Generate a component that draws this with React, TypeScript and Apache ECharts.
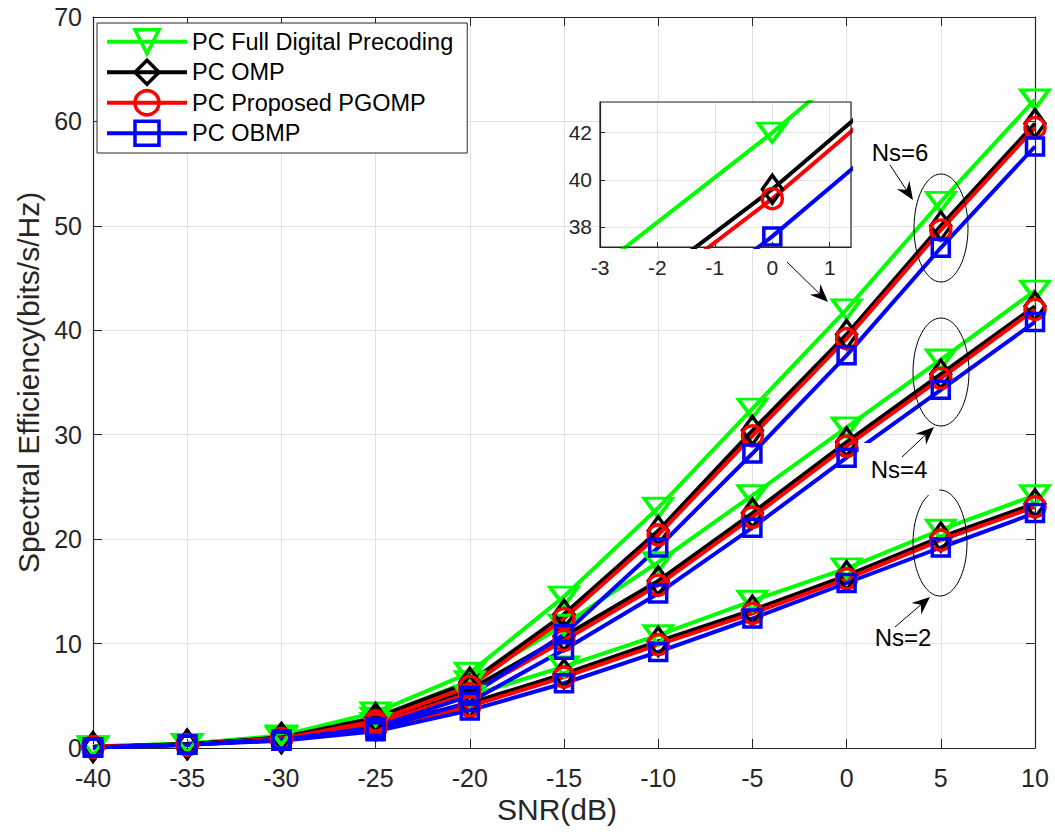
import React, { useEffect, useRef } from "react";
import * as echarts from "echarts";

// ---------- data ----------
const snr = [-40, -35, -30, -25, -20, -15, -10, -5, 0, 5, 10];

// Ns = 6
const fd6 = [0.15, 0.4, 1.2, 3.4, 7.2, 14.5, 23.0, 32.5, 42.0, 52.3, 62.1];
const omp6 = [0.1, 0.35, 1.0, 2.9, 6.3, 12.8, 20.8, 30.4, 39.6, 50.0, 59.8];
const pgomp6 = [0.1, 0.3, 0.9, 2.6, 5.9, 12.4, 20.4, 29.9, 39.2, 49.6, 59.4];
const obmp6 = [0.05, 0.3, 0.8, 2.0, 5.0, 10.9, 19.2, 28.2, 37.6, 47.9, 57.6];

// Ns = 4
const fd4 = [0.15, 0.4, 1.1, 2.9, 6.4, 11.8, 17.8, 24.2, 30.7, 37.2, 43.8];
const omp4 = [0.1, 0.35, 1.0, 2.6, 5.6, 10.7, 16.0, 22.5, 29.3, 35.8, 42.3];
const pgomp4 = [0.1, 0.3, 0.9, 2.3, 5.2, 10.3, 15.6, 22.1, 28.9, 35.4, 42.0];
const obmp4 = [0.05, 0.3, 0.8, 1.8, 4.4, 9.4, 14.8, 21.1, 27.8, 34.3, 40.8];

// Ns = 2
const fd2 = [0.15, 0.4, 1.0, 2.4, 5.0, 7.8, 10.8, 14.1, 17.2, 20.9, 24.2];
const omp2 = [0.1, 0.35, 0.9, 2.1, 4.3, 7.1, 10.2, 13.2, 16.5, 20.2, 23.4];
const pgomp2 = [0.1, 0.3, 0.8, 1.8, 4.0, 6.8, 9.9, 12.9, 16.2, 19.9, 23.1];
const obmp2 = [0.05, 0.3, 0.7, 1.6, 3.6, 6.2, 9.2, 12.4, 15.8, 19.2, 22.5];

const xTicks = { min: -40, max: 10, step: 5 };
const yTicks = { min: 0, max: 70, step: 10 };
const insetX = { min: -3, max: 1.37, step: 1 };
const insetY = { min: 37.15, max: 43.3 };

const legendNames = [
  "PC Full Digital Precoding",
  "PC OMP",
  "PC Proposed PGOMP",
  "PC OBMP",
];

const FONT = "'Liberation Sans', Arial, Helvetica, sans-serif";
const AX = "#262626";
const GRIDC = "#e2e2e2";

const methods = [
  { name: legendNames[0], color: "#00ff00", symbol: "triangle", size: [28, 19], rotate: 180, sets: [fd2, fd4, fd6] },
  { name: legendNames[1], color: "#000000", symbol: "diamond", size: [20, 28], rotate: 0, sets: [omp2, omp4, omp6] },
  { name: legendNames[2], color: "#ff0000", symbol: "circle", size: 20, rotate: 0, sets: [pgomp2, pgomp4, pgomp6] },
  { name: legendNames[3], color: "#0000ff", symbol: "rect", size: 17, rotate: 0, sets: [obmp2, obmp4, obmp6] },
];

const MAIN = { left: 93, top: 17, width: 942, height: 731 };
const INSET = { left: 600, top: 102, width: 251, height: 145 };

function arrow(x1: number, y1: number, x2: number, y2: number) {
  const dx = x2 - x1, dy = y2 - y1;
  const L = Math.hypot(dx, dy);
  const ux = dx / L, uy = dy / L;
  const px = -uy, py = ux;
  const hl = 18, hw = 7.5, notch = 6;
  const bx = x2 - ux * hl, by = y2 - uy * hl;
  const nx = x2 - ux * (hl - notch), ny = y2 - uy * (hl - notch);
  return [
    { type: "line", z: 20, shape: { x1, y1, x2: nx, y2: ny }, style: { stroke: "#000", lineWidth: 1 } },
    {
      type: "polygon", z: 20,
      shape: { points: [[x2, y2], [bx + px * hw, by + py * hw], [nx, ny], [bx - px * hw, by - py * hw]] },
      style: { fill: "#000" },
    },
  ];
}

function label(text: string, x: number, y: number, bg?: boolean) {
  return {
    type: "text", z: 15, x, y,
    style: {
      text, fontSize: 24, fontFamily: FONT, fill: "#000",
      align: "center", verticalAlign: "middle",
      ...(bg ? { backgroundColor: "#fff", padding: [14, 12, 14, 12] } : {}),
    },
  };
}

export default function App() {
  const ref = useRef<HTMLDivElement>(null);
  useEffect(() => {
    const chart = echarts.init(ref.current!, null, { renderer: "svg" });

    const mk = (m: any, arr: number[], xi: number, z: number) => ({
      type: "line", name: m.name, xAxisIndex: xi, yAxisIndex: xi, z, clip: true,
      data: snr.map((x, i) => [x, arr[i]]),
      symbol: m.symbol, symbolSize: m.size, symbolRotate: m.rotate, showSymbol: true,
      lineStyle: { color: m.color, width: 4 },
      itemStyle: { color: "rgba(0,0,0,0)", borderColor: m.color, borderWidth: 3.5 },
      emphasis: { disabled: true }, silent: true,
    });

    const series: any[] = [];
    methods.forEach((m) => m.sets.forEach((arr) => series.push(mk(m, arr, 0, 2))));
    methods.forEach((m) => series.push(mk(m, m.sets[2], 2, 6)));

    const tickLabel = { fontSize: 25, color: AX, fontFamily: FONT };

    const option: any = {
      animation: false,
      backgroundColor: "#fff",
      grid: [
        { ...MAIN, containLabel: false },
        { ...INSET, containLabel: false },
      ],
      legend: {
        data: legendNames,
        orient: "vertical",
        left: 97, top: 23,
        itemWidth: 80, itemHeight: 30, itemGap: 3,
        padding: [5, 14, 6, 8],
        backgroundColor: "#fff",
        borderColor: AX, borderWidth: 1, borderRadius: 0,
        selectedMode: false,
        textStyle: { fontSize: 23.5, color: "#000", fontFamily: FONT },
        itemStyle: { borderWidth: 3.5 },
        lineStyle: { width: 4 },
      },
      xAxis: [
        {
          type: "value", gridIndex: 0, position: "bottom",
          min: xTicks.min, max: xTicks.max, interval: xTicks.step,
          axisLine: { show: true, onZero: false, lineStyle: { color: AX, width: 1.2 } },
          axisTick: { show: true, inside: true, length: 9, lineStyle: { color: AX } },
          axisLabel: { ...tickLabel, margin: 17 },
          splitLine: { show: true, lineStyle: { color: GRIDC, width: 1 } },
          name: "SNR(dB)", nameLocation: "middle", nameGap: 46,
          nameTextStyle: { fontSize: 30, color: AX, fontFamily: FONT, padding: [0, 14, 0, 0] },
        },
        {
          type: "value", gridIndex: 0, position: "top",
          min: xTicks.min, max: xTicks.max, interval: xTicks.step,
          axisLine: { show: true, onZero: false, lineStyle: { color: AX, width: 1.2 } },
          axisTick: { show: true, inside: true, length: 9, lineStyle: { color: AX } },
          axisLabel: { show: false }, splitLine: { show: false },
        },
        {
          type: "value", gridIndex: 1, position: "bottom", z: 5,
          min: insetX.min, max: insetX.max, interval: insetX.step,
          axisLine: { show: true, onZero: false, lineStyle: { color: AX, width: 1.2 } },
          axisTick: { show: true, inside: true, length: 5, lineStyle: { color: AX } },
          axisLabel: { fontSize: 21, color: AX, fontFamily: FONT, margin: 10, showMaxLabel: false },
          splitLine: { show: true, lineStyle: { color: GRIDC, width: 1 } },
        },
      ],
      yAxis: [
        {
          type: "value", gridIndex: 0, position: "left",
          min: yTicks.min, max: yTicks.max, interval: yTicks.step,
          axisLine: { show: true, onZero: false, lineStyle: { color: AX, width: 1.2 } },
          axisTick: { show: true, inside: true, length: 9, lineStyle: { color: AX } },
          axisLabel: { ...tickLabel, margin: 11 },
          splitLine: { show: true, lineStyle: { color: GRIDC, width: 1 } },
          name: "Spectral Efficiency(bits/s/Hz)", nameLocation: "middle", nameGap: 50,
          nameTextStyle: { fontSize: 30, color: AX, fontFamily: FONT },
        },
        {
          type: "value", gridIndex: 0, position: "right",
          min: yTicks.min, max: yTicks.max, interval: yTicks.step,
          axisLine: { show: true, onZero: false, lineStyle: { color: AX, width: 1.2 } },
          axisTick: { show: true, inside: true, length: 9, lineStyle: { color: AX } },
          axisLabel: { show: false }, splitLine: { show: false },
        },
        {
          type: "value", gridIndex: 1, position: "left", z: 5,
          min: insetY.min, max: insetY.max, splitNumber: 3,
          axisLine: { show: true, onZero: false, lineStyle: { color: AX, width: 1.2 } },
          axisTick: { show: true, inside: true, length: 5, lineStyle: { color: AX } },
          axisLabel: { fontSize: 21, color: AX, fontFamily: FONT, margin: 8, showMinLabel: false, showMaxLabel: false },
          splitLine: { show: true, lineStyle: { color: GRIDC, width: 1 } },
        },
      ],
      series,
      graphic: [
        { type: "rect", z: 3, silent: true, shape: { x: INSET.left, y: INSET.top, width: INSET.width, height: INSET.height }, style: { fill: "#fff" } },
        { type: "rect", z: 8, silent: true, shape: { x: INSET.left, y: INSET.top, width: INSET.width, height: INSET.height }, style: { fill: "none", stroke: AX, lineWidth: 1.2 } },
        { type: "ellipse", z: 12, silent: true, shape: { cx: 941, cy: 228, rx: 27, ry: 54 }, style: { fill: "none", stroke: "#000", lineWidth: 1 } },
        { type: "ellipse", z: 12, silent: true, shape: { cx: 941, cy: 372, rx: 28, ry: 54 }, style: { fill: "none", stroke: "#000", lineWidth: 1 } },
        { type: "ellipse", z: 12, silent: true, shape: { cx: 940, cy: 543, rx: 27, ry: 53 }, style: { fill: "none", stroke: "#000", lineWidth: 1 } },
        label("Ns=6", 900, 152),
        label("Ns=4", 899, 469, true),
        label("Ns=2", 903, 637),
        ...arrow(787, 262, 828, 302),
        ...arrow(890, 165, 913, 200),
        ...arrow(902, 457, 934, 427),
        ...arrow(895, 627, 930, 597),
      ],
    };

    chart.setOption(option);
    return () => chart.dispose();
  }, []);

  return (
    <div
      ref={ref}
      style={{ position: "fixed", left: 0, top: 0, width: 1055, height: 839 }}
    />
  );
}
